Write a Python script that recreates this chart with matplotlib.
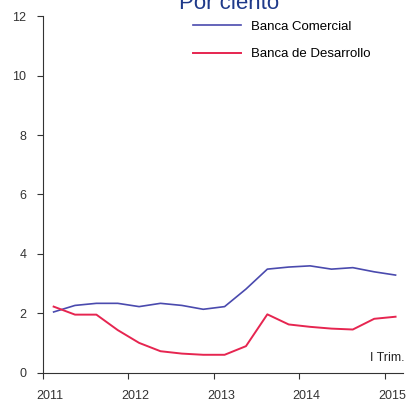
import matplotlib
matplotlib.use("Agg")
import matplotlib.pyplot as plt
import matplotlib.transforms as mtransforms

plt.rcParams['font.family'] = ['Liberation Sans', 'DejaVu Sans']

years = [2011, 2012, 2013, 2014, 2015]
quarters = ['2011T1', '2011T2', '2011T3', '2011T4', '2012T1', '2012T2', '2012T3', '2012T4',
            '2013T1', '2013T2', '2013T3', '2013T4', '2014T1', '2014T2', '2014T3', '2014T4',
            '2015T1']
comercial = [2.05, 2.27, 2.34, 2.34, 2.23, 2.34, 2.27, 2.14, 2.23, 2.82, 3.49, 3.56, 3.60,
             3.49, 3.54, 3.40, 3.29]
desarrollo = [2.23, 1.96, 1.96, 1.44, 1.01, 0.73, 0.65, 0.61, 0.61, 0.90, 1.97, 1.63, 1.55,
              1.49, 1.46, 1.82, 1.89]

# posicion de cada trimestre en el eje (centro del trimestre)
x = [int(q[:4]) + (int(q[-1]) - 0.5) / 4 for q in quarters]

fig = plt.figure(figsize=(4.17, 4.01), dpi=100)
ax = fig.add_axes([0.103, 0.070, 0.863, 0.890])

ax.plot(x, comercial, color='#4a4aae', lw=1.2, label='Banca Comercial')
ax.plot(x, desarrollo, color='#e62550', lw=1.4, label='Banca de Desarrollo')

ax.set_ylim(0, 12)
ax.set_xlim(2011, 2015.21)
ax.set_yticks(range(0, 13, 2))
ax.set_xticks(years)
ax.set_xticklabels([str(y) for y in years])
ax.tick_params(axis='x', labelsize=9, colors='#333333', length=4, pad=8)
ax.tick_params(axis='y', labelsize=9, colors='#333333', length=4, pad=8)
# etiquetas de los anos algo corridas a la derecha, como en el original
shift = mtransforms.ScaledTranslation(7 / 100, 0, fig.dpi_scale_trans)
for lab in ax.get_xticklabels():
    lab.set_transform(lab.get_transform() + shift)
ax.spines['top'].set_visible(False)
ax.spines['right'].set_visible(False)
ax.spines['left'].set_color('#333333')
ax.spines['bottom'].set_color('#333333')

ax.text(1.005, 0.025, 'I Trim.', transform=ax.transAxes, ha='right', va='bottom',
        fontsize=9, color='#222222')

ax.legend(loc='upper left', bbox_to_anchor=(0.385, 1.02), frameon=False, fontsize=9.5,
          handlelength=3.6, labelspacing=1.15)

fig.text(0.55, 0.978, 'Por ciento', ha='center', va='baseline', fontsize=16, color='#1f3a8a')

fig.savefig('out.png', dpi=100)
